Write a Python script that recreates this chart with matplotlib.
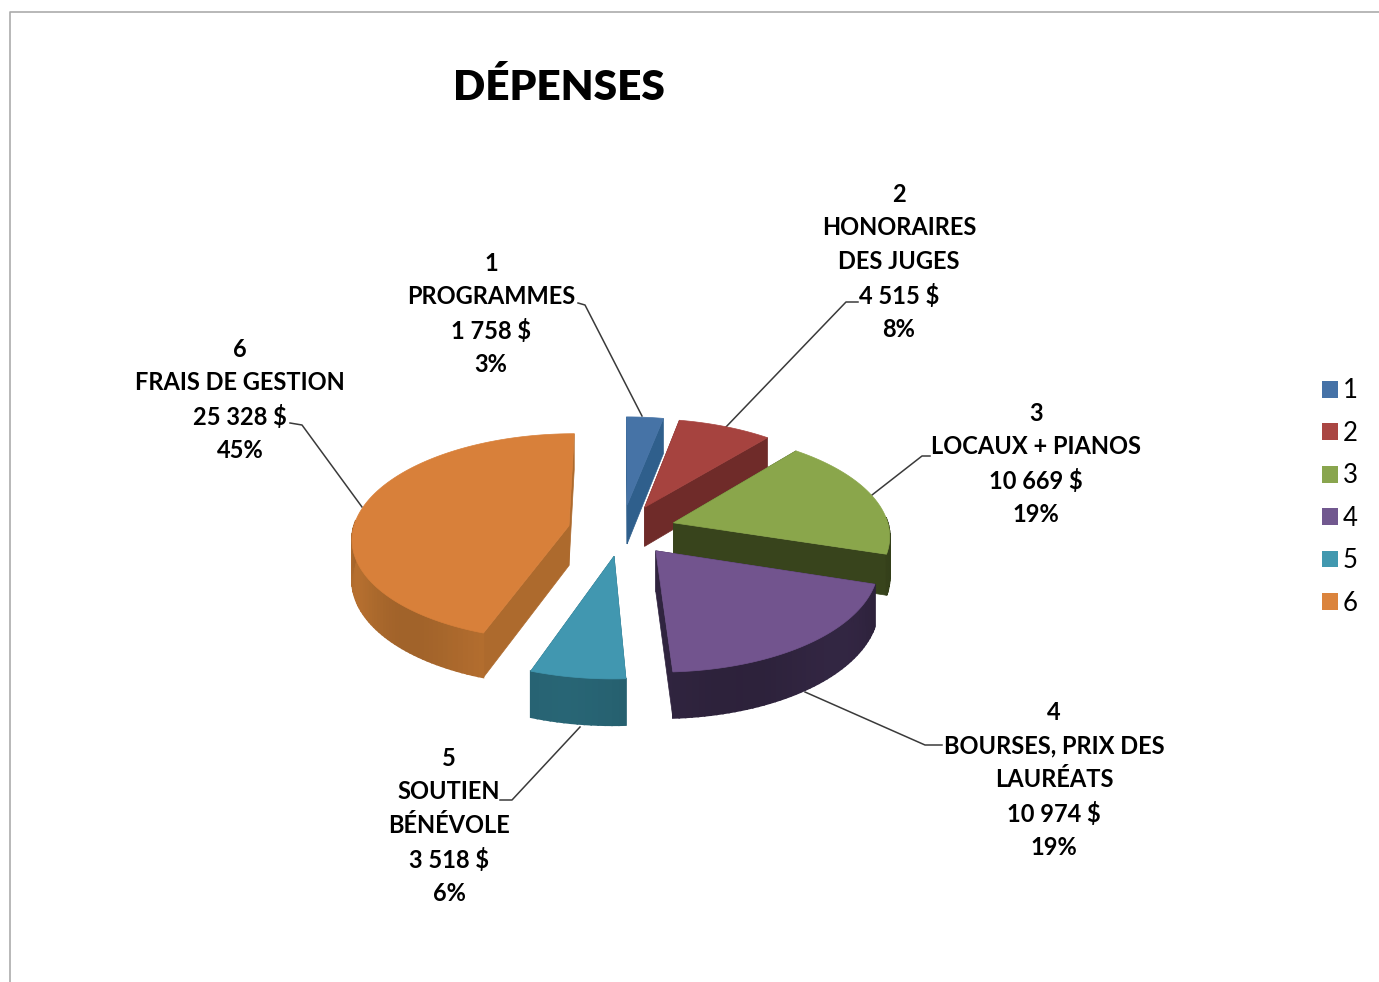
import numpy as np
import matplotlib
matplotlib.use("Agg")
import matplotlib.pyplot as plt
from matplotlib.patches import Patch

plt.rcParams['font.family'] = ['Lato', 'DejaVu Sans']

title = "DÉPENSES"
numbers = ["1", "2", "3", "4", "5", "6"]
names = ["PROGRAMMES", "HONORAIRES\nDES JUGES", "LOCAUX + PIANOS",
         "BOURSES, PRIX DES\nLAURÉATS", "SOUTIEN\nBÉNÉVOLE", "FRAIS DE GESTION"]
values = [1758, 4515, 10669, 10974, 3518, 25328]

top_colors = ["#4673A6", "#A6433F", "#8AA64B", "#72548E", "#4197B0", "#D8803A"]
wall_colors = ["#2F5F8C", "#6F2B29", "#38441C", "#30243F", "#26606F", "#AD6A2D"]
legend_colors = ["#4572A7", "#AA4643", "#89A54E", "#71588F", "#4198AF", "#DB843D"]

# label centres and leader lines, in pixels of the picture
label_pos = [(491, 314), (899, 262), (1036, 464), (1054, 780), (449, 826), (240, 400)]
leaders = [[(578, 303), (585, 305), (642, 416)],
           [(858, 302), (846, 302), (725, 428)],
           [(930, 456), (922, 456), (872, 495)],
           [(942, 745), (925, 745), (805, 692)],
           [(500, 800), (512, 800), (580, 727)],
           [(290, 423), (302, 425), (362, 507)]]

# fake 3D camera
cx, cy = 622, 530
fx, fy = 216, 103
persp = 0.11
depth = 40
explode = 0.25
draw_order = [0, 1, 2, 5, 4, 3]


def project(x, y, z):
    w = 1 + persp * y
    return cx + fx * x / w, cy - (fy * y - depth * z) / w


def shade(color, k):
    rgb = np.array(matplotlib.colors.to_rgb(color)) * k
    return np.clip(rgb, 0, 1)


fig = plt.figure(figsize=(13.79, 9.82), dpi=100)
ax = fig.add_axes([0, 0, 1, 1])
ax.set_xlim(0, 1379)
ax.set_ylim(982, 0)
ax.axis("off")

# chart border
ax.plot([10, 10, 1379], [982, 12, 12], color="#ABABAB", lw=1.2)

fractions = np.array(values) / sum(values)
edges = np.concatenate([[0], np.cumsum(fractions)]) * 2 * np.pi

for line in leaders:
    ax.plot(*zip(*line), color="#3A3A3A", lw=1.1, zorder=1)

for i in draw_order:
    a0, a1 = edges[i], edges[i + 1]
    mid = (a0 + a1) / 2
    ox, oy = explode * np.sin(mid), explode * np.cos(mid)
    ang = np.linspace(a0, a1, max(int((a1 - a0) * 40), 8))
    rx, ry = ox + np.sin(ang), oy + np.cos(ang)

    # cut faces
    for a in (a0, a1):
        ex, ey = ox + np.sin(a), oy + np.cos(a)
        p = [project(ox, oy, 0), project(ex, ey, 0), project(ex, ey, 1), project(ox, oy, 1)]
        ax.fill(*zip(*p), color=wall_colors[i], lw=0.5, zorder=3)

    # outer wall, in short strips so it can carry a light gradient
    for j in range(len(ang) - 1):
        if np.cos(ang[j]) > 0.05 and np.cos(ang[j + 1]) > 0.05:
            continue
        p = [project(rx[j], ry[j], 0), project(rx[j + 1], ry[j + 1], 0),
             project(rx[j + 1], ry[j + 1], 1), project(rx[j], ry[j], 1)]
        k = 0.93 + 0.12 * np.sin(ang[j] * 3 + 1) ** 2
        ax.fill(*zip(*p), color=shade(wall_colors[i], k), lw=1.2, zorder=3)

    # top
    tx, ty = project(np.r_[ox, rx], np.r_[oy, ry], 0)
    ax.fill(tx, ty, color=top_colors[i], lw=0.5, zorder=3)

total = sum(values)
for num, name, val, pos in zip(numbers, names, values, label_pos):
    amount = f"{val:,}".replace(",", " ")
    txt = f"{num}\n{name}\n{amount} $\n{round(100 * val / total)}%"
    ax.text(pos[0], pos[1], txt, ha="center", va="center", fontsize=17,
            fontweight="bold", color="black", linespacing=1.54, zorder=5)

ax.text(559, 87, title, ha="center", va="center", fontsize=30.5,
        fontweight="heavy", color="black")

handles = [Patch(facecolor=c, edgecolor="none") for c in legend_colors]
ax.legend(handles, numbers, loc="center left", bbox_to_anchor=(1322 / 1379, 1 - 497 / 982),
          frameon=False, fontsize=18.5, handlelength=0.62, handleheight=0.62,
          handletextpad=0.2, labelspacing=0.68, borderpad=0, borderaxespad=0)

fig.savefig("out.png", dpi=100)
